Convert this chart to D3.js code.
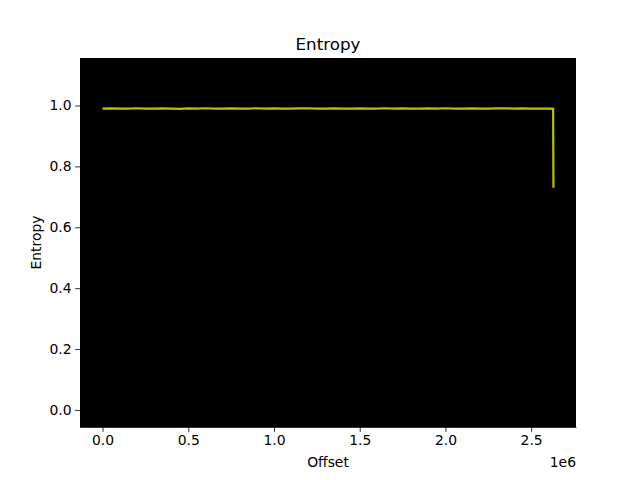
<!DOCTYPE html>
<html>
<head>
<meta charset="utf-8">
<script src="https://cdn.jsdelivr.net/npm/d3@7"></script>
<style>
  body { margin: 0; background: #fff; }
  text { font-family: "DejaVu Sans", sans-serif; fill: #000; }
</style>
</head>
<body>
<div class="canvas"></div>
<script>
// byte offsets of each block and its entropy
const offsets = [
  0, 50000, 100000, 150000, 200000, 250000, 300000, 350000, 400000, 450000,
  500000, 550000, 600000, 650000, 700000, 750000, 800000, 850000, 900000, 950000,
  1000000, 1050000, 1100000, 1150000, 1200000, 1250000, 1300000, 1350000, 1400000, 1450000,
  1500000, 1550000, 1600000, 1650000, 1700000, 1750000, 1800000, 1850000, 1900000, 1950000,
  2000000, 2050000, 2100000, 2150000, 2200000, 2250000, 2300000, 2350000, 2400000, 2450000,
  2500000, 2550000, 2600000, 2628000, 2630000
]
const entropy = [
  0.990, 0.9905, 0.9895, 0.990, 0.991, 0.9895, 0.990, 0.9905, 0.990, 0.989,
  0.9905, 0.990, 0.991, 0.990, 0.9895, 0.9905, 0.990, 0.990, 0.991, 0.9895,
  0.9905, 0.990, 0.9895, 0.9905, 0.991, 0.990, 0.9895, 0.9905, 0.990, 0.990,
  0.9905, 0.9895, 0.990, 0.991, 0.990, 0.9905, 0.9895, 0.990, 0.9905, 0.990,
  0.991, 0.9895, 0.990, 0.9905, 0.990, 0.9895, 0.9905, 0.991, 0.990, 0.9905,
  0.990, 0.9895, 0.990, 0.990, 0.730
]
const xTicks = [0, 500000, 1000000, 1500000, 2000000, 2500000]
const yTicks = [0.0, 0.2, 0.4, 0.6, 0.8, 1.0]
const yLimits = [-0.056, 1.156]

const data = offsets.map((o, i) => ({ offset: o, value: entropy[i] }))

const dims = { width: 640, height: 480 }
const margin = { top: 58, right: 64, bottom: 53, left: 80 }
const inner = {
  width: dims.width - margin.left - margin.right,
  height: dims.height - margin.top - margin.bottom
}

const svg = d3
  .select('.canvas')
  .append('svg')
  .attr('width', dims.width)
  .attr('height', dims.height)

const graph = svg
  .append('g')
  .attr('transform', `translate(${margin.left}, ${margin.top})`)

//? SCALES (x padded 5% like matplotlib autoscale)
const [xMin, xMax] = d3.extent(offsets)
const pad = (xMax - xMin) * 0.05
const x = d3
  .scaleLinear()
  .domain([xMin - pad, xMax + pad])
  .range([0, inner.width])

const y = d3
  .scaleLinear()
  .domain(yLimits)
  .range([inner.height, 0])

//? AXES BACKGROUND
graph
  .append('rect')
  .attr('width', inner.width)
  .attr('height', inner.height)
  .attr('fill', '#000')

//? LINE
const line = d3
  .line()
  .x(d => x(d.offset))
  .y(d => y(d.value))

graph
  .append('path')
  .datum(data)
  .attr('fill', 'none')
  .attr('stroke', '#bfbf00')
  .attr('stroke-width', 2.2)
  .attr('d', line)

//? AXES
const xAxis = d3
  .axisBottom(x)
  .tickValues(xTicks)
  .tickFormat(d => d3.format('.1f')(d / 1e6))
  .tickSizeInner(4.9)
  .tickSizeOuter(0)
  .tickPadding(3.5)

const yAxis = d3
  .axisLeft(y)
  .tickValues(yTicks)
  .tickFormat(d3.format('.1f'))
  .tickSizeInner(4.9)
  .tickSizeOuter(0)
  .tickPadding(3.5)

const xG = graph
  .append('g')
  .attr('transform', `translate(0, ${inner.height})`)
  .call(xAxis)
const yG = graph.append('g').call(yAxis)

;[xG, yG].forEach(g => {
  g.select('.domain').attr('stroke', '#000').attr('stroke-width', 0.8)
  g.selectAll('.tick line').attr('stroke', '#000').attr('stroke-width', 0.8)
  g.selectAll('.tick text')
    .attr('font-family', 'DejaVu Sans')
    .attr('font-size', 13.9)
    .attr('fill', '#000')
})

//? LABELS
svg
  .append('text')
  .attr('x', margin.left + inner.width / 2)
  .attr('y', 50)
  .attr('text-anchor', 'middle')
  .attr('font-size', 16.7)
  .text('Entropy')

svg
  .append('text')
  .attr('x', margin.left + inner.width / 2)
  .attr('y', 467)
  .attr('text-anchor', 'middle')
  .attr('font-size', 13.9)
  .text('Offset')

svg
  .append('text')
  .attr('x', margin.left + inner.width)
  .attr('y', 467)
  .attr('text-anchor', 'end')
  .attr('font-size', 13.9)
  .text('1e6')

svg
  .append('text')
  .attr('transform', `translate(41, ${margin.top + inner.height / 2}) rotate(-90)`)
  .attr('text-anchor', 'middle')
  .attr('font-size', 13.9)
  .text('Entropy')
</script>
</body>
</html>
